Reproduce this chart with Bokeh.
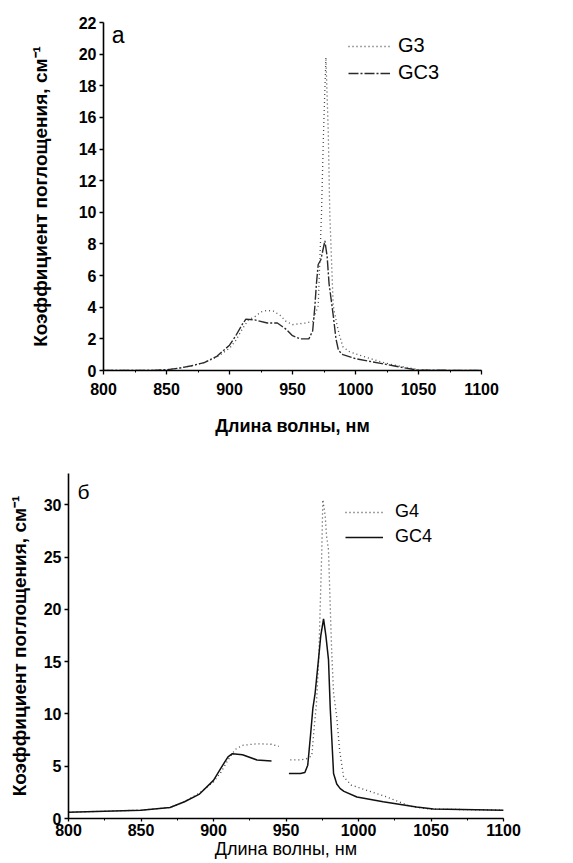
from bokeh.plotting import figure
from bokeh.layouts import column, row
from bokeh.models import Range1d, SingleIntervalTicker, Label, Legend, LegendItem
from bokeh.embed import file_html
from bokeh.resources import INLINE

nan = float("nan")

# ---------------- Panel а ----------------
wl_g3 = [800, 820, 840, 850, 860, 870, 880, 890, 900, 905, 910, 915, 920, 925, 930, 935,
         940, 945, 950, 955, 960, 966, 970.4, 973.0, 974.6, 976.5, 978.4, 979.6, 982.3,
         985, 987, 990, 995, 1000, 1010, 1020, 1030, 1040, 1050, 1070, 1100]
abs_g3 = [0, 0, 0.02, 0.05, 0.15, 0.3, 0.5, 0.85, 1.4, 1.9, 2.6, 3.2, 3.4, 3.7, 3.8, 3.75,
          3.5, 3.1, 2.9, 2.95, 3.0, 3.1, 4.1, 9.9, 15.0, 19.8, 15.0, 9.9, 4.1,
          3.0, 2.3, 1.5, 1.2, 1.05, 0.8, 0.55, 0.35, 0.2, 0.05, 0, 0]

wl_gc3 = [800, 840, 850, 860, 870, 880, 890, 900, 905, 910, 913, 920, 930, 938, 945, 950,
          956, 963, 966, 967.7, 969, 970.4, 972.5, 975.7, 977.5, 979, 980.5, 982.3, 984.5,
          986.5, 990, 1000, 1010, 1020, 1030, 1040, 1050, 1100]
abs_gc3 = [0, 0, 0.05, 0.15, 0.3, 0.5, 0.9, 1.6, 2.2, 2.9, 3.25, 3.2, 3.0, 3.0, 2.6, 2.2,
           2.0, 2.0, 2.5, 4.0, 5.5, 6.7, 7.0, 8.2, 7.2, 5.5, 4.6, 3.5, 2.0,
           1.27, 1.0, 0.75, 0.6, 0.45, 0.3, 0.15, 0.02, 0]

# ---------------- Panel б ----------------
wl_g4 = [800, 850, 870, 880, 890, 900, 905, 910, 915, 920, 930, 940, 945, nan,
         953, 960, 964, 967.8, 969, 971, 972.5, 973.6, 974.7, 975.4, 977, 978, 979.3,
         980.5, 981.5, 982.8, 985, 987, 989.7, 995, 1005.7, 1019.5, 1035.6, 1049, 1100]
abs_g4 = [0.6, 0.8, 1.05, 1.6, 2.4, 3.5, 4.4, 5.6, 6.6, 7.0, 7.15, 7.1, 6.9, nan,
          5.6, 5.6, 5.7, 6.0, 8.0, 11.0, 15.0, 20.3, 25.7, 30.5, 29.0, 27.0, 25.7,
          20.3, 16.0, 12.0, 9.7, 6.5, 4.0, 3.2, 2.7, 2.06, 1.17, 0.9, 0.8]

wl_gc4 = [800, 850, 870, 880, 890, 900, 905, 910, 913, 920, 930, 940, nan,
          952, 960, 963, 965, 967, 968.5, 970.1, 972.4, 974, 975.9, 977.5, 979.3,
          980.5, 982.8, 985, 987.4, 990, 998.9, 1017, 1040, 1051.7, 1100]
abs_gc4 = [0.6, 0.8, 1.05, 1.6, 2.3, 3.65, 4.8, 5.9, 6.2, 6.1, 5.6, 5.5, nan,
           4.3, 4.3, 4.4, 5.1, 8.1, 10.5, 12.0, 15.2, 17.5, 19.1, 17.5, 15.2,
           10.6, 4.3, 3.3, 2.86, 2.6, 2.06, 1.6, 1.1, 0.9, 0.8]

x_label = "Длина волны, нм"
y_label = "Коэффициент поглощения, см⁻¹"
FONT = "Liberation Sans"


def base_fig(fw, fh, left, right, top, bottom, ymax, ystep, tick_fs):
    p = figure(frame_width=fw, frame_height=fh, min_border_left=left, min_border_right=right,
               min_border_top=top, min_border_bottom=bottom, output_backend="svg",
               toolbar_location=None, x_range=Range1d(800, 1100), y_range=Range1d(0, ymax))
    p.outline_line_color = None
    p.grid.visible = False
    p.background_fill_color = "white"
    p.border_fill_color = "white"
    p.xaxis.ticker = SingleIntervalTicker(interval=50, num_minor_ticks=2)
    p.yaxis.ticker = SingleIntervalTicker(interval=ystep, num_minor_ticks=0)
    for ax in (p.xaxis[0], p.yaxis[0]):
        ax.axis_line_width = 1.6
        ax.axis_line_color = "black"
        ax.major_tick_line_width = 1.3
        ax.major_tick_in = 0
        ax.major_tick_out = 4
        ax.minor_tick_in = 0
        ax.minor_tick_out = 2
        ax.major_label_text_font = FONT
        ax.major_label_text_font_style = "bold"
        ax.major_label_text_font_size = tick_fs
        ax.major_label_text_color = "black"
        ax.axis_label_text_font = FONT
        ax.axis_label_text_color = "black"
    return p


# Figure а
p1 = base_fig(378, 348, 103, 84, 22, 70, 22, 2, "16px")
p1.xaxis.axis_label = x_label
p1.xaxis.axis_label_text_font_style = "bold"
p1.xaxis.axis_label_text_font_size = "18px"
p1.xaxis.major_label_standoff = 8
p1.xaxis.axis_label_standoff = 18
p1.yaxis.axis_label = y_label
p1.yaxis.axis_label_text_font_style = "bold"
p1.yaxis.axis_label_text_font_size = "19px"
p1.yaxis.major_label_standoff = 3
p1.yaxis.axis_label_standoff = 25

r_g3 = p1.line(wl_g3, abs_g3, line_color="#4a4a4a", line_width=1.3, line_dash="1 3")
r_gc3 = p1.line(wl_gc3, abs_gc3, line_color="#2a2a2a", line_width=1.4, line_dash="10 2 2 2")
leg1 = Legend(items=[LegendItem(label="G3", renderers=[r_g3]),
                     LegendItem(label="GC3", renderers=[r_gc3])],
              location=(245, 286), border_line_color=None, background_fill_alpha=0,
              padding=0, margin=0, spacing=4, glyph_width=42, glyph_height=20,
              label_height=20, label_standoff=8, label_text_font=FONT,
              label_text_font_size="20px", label_text_color="black")
p1.add_layout(leg1)
p1.add_layout(Label(x=806.5, y=21.2, text="а", text_font=FONT, text_font_size="23px",
                    text_baseline="alphabetic", text_color="black"))

# Figure б
p2 = base_fig(435, 345, 68, 62, 33, 43, 33, 5, "16px")
p2.xaxis.axis_label = x_label
p2.xaxis.axis_label_text_font_style = "normal"
p2.xaxis.axis_label_text_font_size = "18px"
p2.xaxis.major_tick_out = 3
p2.xaxis.major_label_standoff = 2
p2.xaxis.axis_label_standoff = 0
p2.yaxis.axis_label = y_label
p2.yaxis.axis_label_text_font_style = "bold"
p2.yaxis.axis_label_text_font_size = "19px"
p2.yaxis.major_label_standoff = 3
p2.yaxis.axis_label_standoff = 11

r_g4 = p2.line(wl_g4, abs_g4, line_color="#444444", line_width=1.3, line_dash="1 3")
r_gc4 = p2.line(wl_gc4, abs_gc4, line_color="#111111", line_width=1.5)
leg2 = Legend(items=[LegendItem(label="G4", renderers=[r_g4]),
                     LegendItem(label="GC4", renderers=[r_gc4])],
              location=(277, 271), border_line_color=None, background_fill_alpha=0,
              padding=0, margin=0, spacing=4, glyph_width=38, glyph_height=20,
              label_height=20, label_standoff=12, label_text_font=FONT,
              label_text_font_size="18px", label_text_color="black")
p2.add_layout(leg2)
p2.add_layout(Label(x=806.2, y=31.3, text="б", text_font=FONT, text_font_size="21px",
                    text_baseline="alphabetic", text_color="black"))

layout = column(row(p1), row(p2), spacing=0)
open("out.html", "w").write(file_html(layout, INLINE))
